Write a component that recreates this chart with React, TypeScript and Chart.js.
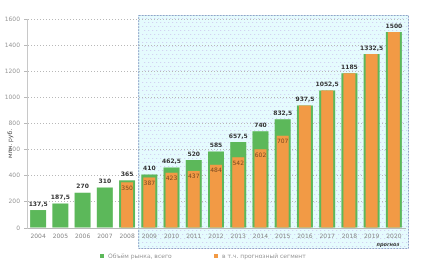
import React, { useEffect, useRef } from "react";
import { Chart, registerables } from "chart.js";

Chart.register(...registerables);

const years = ["2004", "2005", "2006", "2007", "2008", "2009", "2010", "2011", "2012", "2013", "2014", "2015", "2016", "2017", "2018", "2019", "2020"];
const totalValues = [137.5, 187.5, 270, 310, 365, 410, 462.5, 520, 585, 657.5, 740, 832.5, 937.5, 1052.5, 1185, 1332.5, 1500];
const partValues = [null, null, null, null, 350, 387, 423, 437, 484, 542, 602, 707, 937.5, 1052.5, 1185, 1332.5, 1500];
const partLabels = ["", "", "", "", "350", "387", "423", "437", "484", "542", "602", "707", "", "", "", "", ""];
const yTicks = [0, 200, 400, 600, 800, 1000, 1200, 1400, 1600];
const forecastStart = "2009";
const forecastNote = "прогноз";
const yTitle = "млн. руб.";
const legendLabels = ["Объём рынка, всего", "в т.ч. прогнозный сегмент"];

const GREEN = "#5cb85a";
const ORANGE = "#f29a45";

const fmt = (v: number) => String(v).replace(".", ",");

const overlayPlugin = {
  id: "overlay",
  beforeDraw(chart: any) {
    const { ctx, chartArea, scales } = chart;
    const x = scales.x;
    const i = years.indexOf(forecastStart);
    const left = (x.getPixelForValue(i - 1) + x.getPixelForValue(i)) / 2;
    const right = chartArea.right + 3;
    const top = chartArea.top - 4;
    const bottom = chartArea.bottom + 20;
    ctx.save();
    ctx.fillStyle = "rgba(220,250,252,0.75)";
    ctx.fillRect(left, top, right - left, bottom - top);
    ctx.fillStyle = "rgba(190,160,230,0.55)";
    for (let yy = top + 3; yy < bottom; yy += 4) {
      for (let xx = left + 3 + ((yy / 4) % 2) * 2; xx < right; xx += 4) {
        ctx.fillRect(xx, yy, 1, 1);
      }
    }
    ctx.setLineDash([2, 1]);
    ctx.strokeStyle = "#8fa3c8";
    ctx.strokeRect(left + 0.5, top + 0.5, right - left, bottom - top);
    ctx.restore();
  },
  afterDraw(chart: any) {
    const { ctx, chartArea, scales } = chart;
    const x = scales.x;
    const y = scales.y;
    ctx.save();
    ctx.textAlign = "center";
    ctx.textBaseline = "middle";
    ctx.font = "6px 'DejaVu Sans', sans-serif";
    ctx.fillStyle = "#888";
    years.forEach((lab, i) => {
      ctx.fillText(lab, x.getPixelForValue(i), chartArea.bottom + 8);
    });
    ctx.textBaseline = "bottom";
    ctx.font = "bold 6px 'DejaVu Sans', sans-serif";
    ctx.fillStyle = "#333";
    totalValues.forEach((v, i) => {
      ctx.fillText(fmt(v), x.getPixelForValue(i), y.getPixelForValue(v) - 3);
    });
    ctx.font = "6px 'DejaVu Sans', sans-serif";
    ctx.fillStyle = "#7a4a20";
    ctx.textBaseline = "top";
    partValues.forEach((v, i) => {
      if (v != null && partLabels[i]) {
        ctx.fillText(partLabels[i], x.getPixelForValue(i), y.getPixelForValue(v) + 3);
      }
    });
    ctx.font = "italic bold 5px 'DejaVu Sans', sans-serif";
    ctx.fillStyle = "#333";
    ctx.fillText(forecastNote, x.getPixelForValue(years.length - 1) - 6, chartArea.bottom + 14);
    ctx.translate(10, (chartArea.top + chartArea.bottom) / 2 + 20);
    ctx.rotate(-Math.PI / 2);
    ctx.font = "6px 'DejaVu Sans', sans-serif";
    ctx.fillStyle = "#444";
    ctx.textBaseline = "middle";
    ctx.fillText(yTitle, 0, 0);
    ctx.restore();
    ctx.save();
    ctx.font = "6px 'DejaVu Sans', sans-serif";
    ctx.textBaseline = "middle";
    ctx.textAlign = "left";
    const ly = chartArea.bottom + 28;
    ctx.fillStyle = GREEN;
    ctx.fillRect(100, ly - 2, 4, 4);
    ctx.fillStyle = "#999";
    ctx.fillText(legendLabels[0], 108, ly);
    ctx.fillStyle = ORANGE;
    ctx.fillRect(214, ly - 2, 4, 4);
    ctx.fillStyle = "#999";
    ctx.fillText(legendLabels[1], 222, ly);
    ctx.restore();
  },
};

export default function App() {
  const ref = useRef<HTMLCanvasElement>(null);
  useEffect(() => {
    document.body.style.margin = "0";
    const chart = new Chart(ref.current!, {
      type: "bar",
      data: {
        labels: years,
        datasets: [
          {
            label: legendLabels[1],
            data: partValues as any,
            backgroundColor: ORANGE,
            grouped: false,
            categoryPercentage: 1,
            barPercentage: 0.54,
            order: 1,
          },
          {
            label: legendLabels[0],
            data: totalValues,
            backgroundColor: GREEN,
            grouped: false,
            categoryPercentage: 1,
            barPercentage: 0.72,
            order: 2,
          },
        ],
      },
      options: {
        animation: false,
        responsive: false,
        layout: { padding: { top: 19, right: 24, bottom: 21, left: 0 } },
        plugins: { legend: { display: false }, tooltip: { enabled: false } },
        scales: {
          x: {
            grid: { display: false },
            border: { display: true, color: "#b8b8b8" },
            ticks: { display: false },
            afterFit: (s: any) => { s.height = 14; },
          },
          y: {
            min: 0,
            max: 1600,
            afterBuildTicks: (s: any) => { s.ticks = yTicks.map((v) => ({ value: v })); },
            ticks: { color: "#999", font: { size: 6, family: "'DejaVu Sans', sans-serif" }, padding: 4, callback: (v: any) => String(v) },
            grid: { color: "#b8b8b8", drawTicks: true, tickLength: 3 },
            border: { display: true, color: "#c8c8c8", dash: [1, 2] },
            afterFit: (s: any) => { s.width = 27; },
          },
        },
      },
      plugins: [overlayPlugin],
    });
    return () => chart.destroy();
  }, []);
  return <canvas ref={ref} width={429} height={263} style={{ display: "block" }} />;
}
